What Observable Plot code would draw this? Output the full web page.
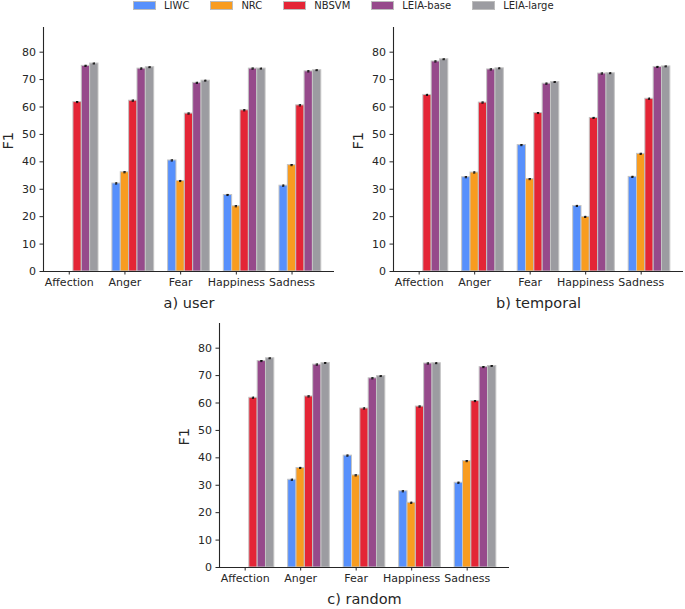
<!DOCTYPE html>
<html><head><meta charset="utf-8">
<script src="https://cdn.jsdelivr.net/npm/d3@7"></script>
<script src="https://cdn.jsdelivr.net/npm/@observablehq/plot@0.6"></script>
<style>
body{margin:0;background:#fff;font-family:"DejaVu Sans",sans-serif;}
#wrap{position:relative;width:685px;height:609px;overflow:hidden;background:#fff;}
.panel{position:absolute;}
#legend{position:absolute;left:133px;top:0px;height:10px;display:flex;align-items:center;font-size:10px;color:#262626;z-index:2;white-space:nowrap;}
.item{display:flex;align-items:center;margin-right:21px;}
.sw{width:21px;height:7px;border:1px solid #bdbdbd;margin-right:8px;}
</style></head>
<body><div id="wrap"><div id="legend"></div></div>
<script>
const categories = ["Affection","Anger","Fear","Happiness","Sadness"];
const models = ["LIWC","NRC","NBSVM","LEIA-base","LEIA-large"];
const colors = ["#5790fc","#f89c20","#e42536","#964a8b","#9c9ca1"];
const panelTitles = ["a) user","b) temporal","c) random"];
const yTicks = [0,10,20,30,40,50,60,70,80];

// a) user
const userLIWC      = [null, 32.1, 40.5, 27.9, 31.3];
const userNRC       = [null, 36.2, 33.0, 23.8, 38.8];
const userNBSVM     = [61.8, 62.3, 57.6, 58.8, 60.6];
const userLEIAbase  = [75.0, 74.0, 68.8, 74.0, 73.0];
const userLEIAlarge = [75.85, 74.5, 69.6, 74.0, 73.4];
// b) temporal
const tempLIWC      = [null, 34.4, 46.1, 23.9, 34.5];
const tempNRC       = [null, 36.1, 33.7, 19.9, 42.9];
const tempNBSVM     = [64.4, 61.6, 57.8, 56.0, 63.0];
const tempLEIAbase  = [76.6, 73.7, 68.5, 72.2, 74.6];
const tempLEIAlarge = [77.4, 74.1, 69.1, 72.3, 74.8];
// c) random
const randLIWC      = [null, 32.0, 40.8, 27.8, 30.9];
const randNRC       = [null, 36.3, 33.6, 23.6, 38.8];
const randNBSVM     = [61.9, 62.4, 58.0, 58.7, 60.7];
const randLEIAbase  = [75.3, 74.0, 69.0, 74.4, 73.1];
const randLEIAlarge = [76.3, 74.6, 69.8, 74.5, 73.5];
// approximate error half-widths per model
const errs = [0.2, 0.2, 0.2, 0.2, 0.15];

const series = [
  [userLIWC, userNRC, userNBSVM, userLEIAbase, userLEIAlarge],
  [tempLIWC, tempNRC, tempNBSVM, tempLEIAbase, tempLEIAlarge],
  [randLIWC, randNRC, randNBSVM, randLEIAbase, randLEIAlarge]
];

const W = 0.15;
const X0 = -0.4625, X1 = 4.7625;
const ink = "#262626";

function makePanel(title, ser, opts) {
  const rows = [];
  ser.forEach((vals, mi) => vals.forEach((v, ci) => {
    if (v != null) rows.push({model: models[mi], mi, ci, v, e: errs[mi]});
  }));
  const cx = d => d.ci + (d.mi - 1) * W;
  return Plot.plot({
    width: opts.width, height: opts.height,
    marginLeft: 43, marginRight: opts.marginRight, marginTop: 27, marginBottom: opts.height - 27 - 244,
    style: {background: "transparent", fontFamily: "DejaVu Sans", fontSize: "11px", color: ink, overflow: "visible"},
    x: {domain: [X0, X1], label: null},
    y: {domain: [0, 89], label: null},
    color: {domain: models, range: colors},
    marks: [
      Plot.rectY(rows, {x1: d => d.ci + (d.mi - 1.5) * W, x2: d => d.ci + (d.mi - 0.5) * W, y1: 0, y2: "v", fill: "model", stroke: "#c4c4c4", strokeWidth: 1}),
      Plot.ruleX(rows, {x: cx, y1: d => d.v - d.e, y2: d => d.v + d.e, stroke: "#111", strokeWidth: 1}),
      Plot.ruleY(rows, {y: d => d.v + d.e, x1: d => cx(d) - 0.02, x2: d => cx(d) + 0.02, stroke: "#111", strokeWidth: 1}),
      Plot.ruleY(rows, {y: d => d.v - d.e, x1: d => cx(d) - 0.02, x2: d => cx(d) + 0.02, stroke: "#111", strokeWidth: 1}),
      Plot.ruleY([0], {stroke: ink, strokeWidth: 1.1}),
      Plot.ruleX([X0], {y1: 0, y2: 89, stroke: ink, strokeWidth: 1.1}),
      Plot.axisX({ticks: [0,1,2,3,4], tickFormat: i => categories[i], tickSize: 3.5, tickPadding: 3.5, label: null, fontSize: 11}),
      Plot.axisY({ticks: yTicks, tickSize: 3.5, tickPadding: 4, label: null, fontSize: 11}),
      Plot.text([title], {text: d => d, frameAnchor: "bottom", dy: 36, fontSize: 14.5, fill: ink}),
      Plot.text(["F1"], {text: d => d, frameAnchor: "left", dx: -35, rotate: -90, fontSize: 14.5, fill: ink})
    ]
  });
}

const wrap = document.getElementById("wrap");
const layouts = [
  {left: 0,   top: 0,   width: 340, height: 315, marginRight: 6},
  {left: 350, top: 0,   width: 335, height: 315, marginRight: 2},
  {left: 176, top: 296, width: 340, height: 313, marginRight: 7}
];
layouts.forEach((L, i) => {
  const svg = makePanel(panelTitles[i], series[i], L);
  const div = document.createElement("div");
  div.className = "panel";
  div.style.left = L.left + "px";
  div.style.top = L.top + "px";
  div.appendChild(svg);
  wrap.appendChild(div);
});

const legend = document.getElementById("legend");
models.forEach((m, i) => {
  const it = document.createElement("div");
  it.className = "item";
  const sw = document.createElement("span");
  sw.className = "sw";
  sw.style.background = colors[i];
  const tx = document.createElement("span");
  tx.textContent = m;
  it.appendChild(sw); it.appendChild(tx);
  legend.appendChild(it);
});
</script></body></html>
